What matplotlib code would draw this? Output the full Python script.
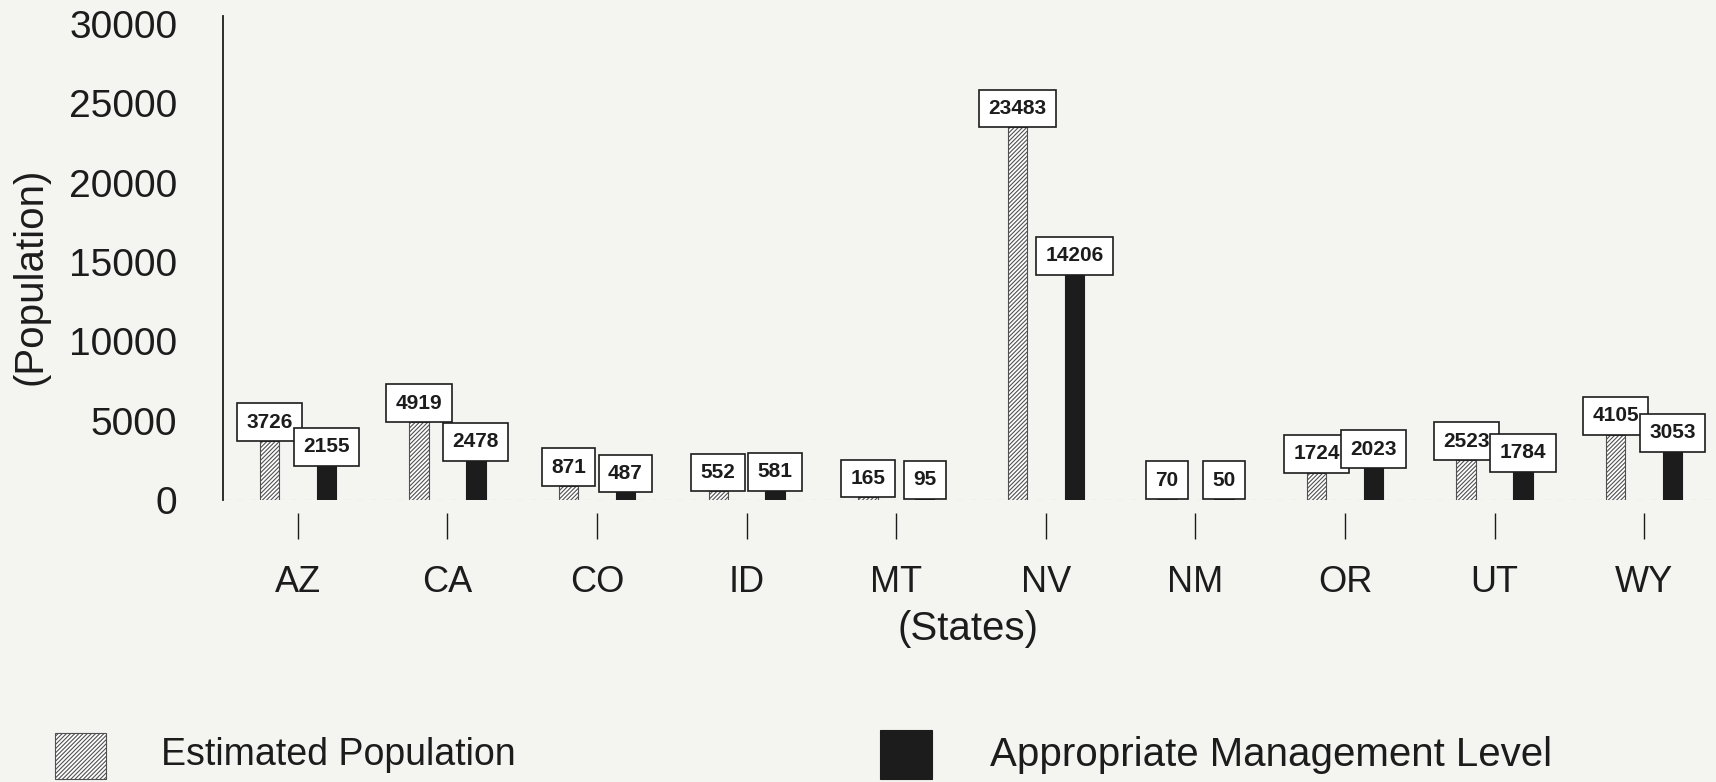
import matplotlib.pyplot as plt
from matplotlib.patches import Rectangle

states = ['AZ', 'CA', 'CO', 'ID', 'MT', 'NV', 'NM', 'OR', 'UT', 'WY']
estimated = [3726, 4919, 871, 552, 165, 23483, 70, 1724, 2523, 4105]
aml = [2155, 2478, 487, 581, 95, 14206, 50, 2023, 1784, 3053]
yticks = [0, 5000, 10000, 15000, 20000, 25000, 30000]

plt.rcParams['font.family'] = ['Liberation Sans', 'DejaVu Sans']
plt.rcParams['hatch.linewidth'] = 0.8
ink = '#1c1c1c'
paper = '#f4f4f1'
hatch = '////////'

fig = plt.figure(figsize=(17.16, 7.82), dpi=100, facecolor=paper)
ax = fig.add_axes([0.130, 0.3606, 0.870, 0.619])
ax.set_facecolor(paper)

# spines first (set_position resets the ticks)
for s in ('top', 'right'):
    ax.spines[s].set_visible(False)
ax.spines['bottom'].set_position(('outward', 9))
ax.spines['bottom'].set_visible(False)
ax.spines['left'].set_color(ink)
ax.spines['left'].set_linewidth(1.3)

x = range(len(states))
off = 0.19
w = 0.13
bars1 = ax.bar([i - off for i in x], estimated, w, color='white',
               edgecolor='#505050', hatch=hatch, linewidth=0.8, zorder=2)
bars2 = ax.bar([i + off for i in x], aml, w, color=ink,
               edgecolor=ink, linewidth=0.8, zorder=2)

# value boxes sitting on top of each bar
fs = 15
pad = 0.45
for bars, vals, z in ((bars1, estimated, 4), (bars2, aml, 5)):
    for b, v in zip(bars, vals):
        ax.annotate(str(v), (b.get_x() + b.get_width() / 2, v),
                    xytext=(0, pad * fs), textcoords='offset points',
                    ha='center', va='bottom', fontsize=fs, fontweight='bold',
                    color=ink, zorder=z,
                    bbox=dict(boxstyle='square,pad=%.2f' % pad, fc='white',
                              ec=ink, lw=1.2))

# faint dashed baseline
ax.axhline(0, color='#9a9a9a', lw=0.8, ls=(0, (6, 6)), zorder=1)

ax.set_xlim(-0.5, 9.48)
ax.set_ylim(0, 30500)
ax.set_yticks(yticks)
ax.set_yticklabels([str(t) for t in yticks], fontsize=28, color=ink)
ax.set_xticks(list(x))
ax.set_xticklabels(states, fontsize=26, color=ink)
ax.tick_params(axis='y', length=0, pad=33)
ax.tick_params(axis='x', length=19, width=1.0, color=ink, pad=19,
               direction='out')

fig.text(0.0175, 0.647, '(Population)', fontsize=29, color=ink,
         rotation=90, ha='center', va='center')
fig.text(0.564, 0.196, '(States)', fontsize=29, color=ink,
         ha='center', va='center')

# legend
fig.patches.append(Rectangle((0.032, 0.004), 0.030, 0.059, transform=fig.transFigure,
                             fc='white', ec='#505050', hatch=hatch, lw=0.8))
fig.text(0.094, 0.035, 'Estimated Population', fontsize=27, color=ink,
         va='center')
fig.patches.append(Rectangle((0.513, 0.004), 0.030, 0.062, transform=fig.transFigure,
                             fc=ink, ec=ink, lw=0.8))
fig.text(0.577, 0.035, 'Appropriate Management Level', fontsize=29, color=ink,
         va='center')

fig.savefig('out.png', dpi=100, facecolor=paper)
